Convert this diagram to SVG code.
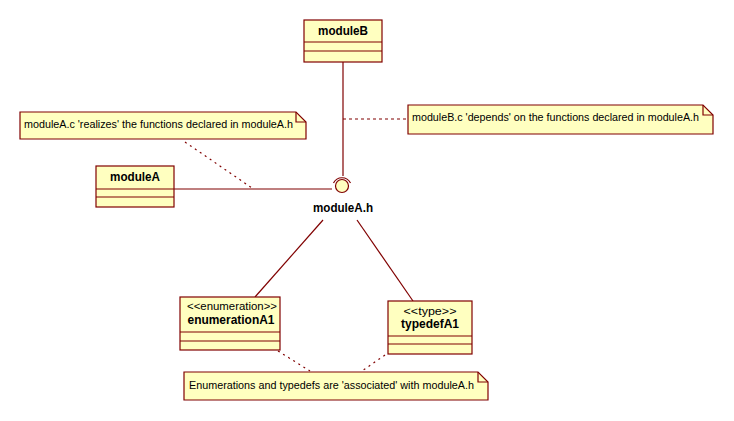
<svg xmlns="http://www.w3.org/2000/svg" width="734" height="421" viewBox="0 0 734 421">
<style>
.box{fill:#FFFFC0;stroke:#800000;stroke-width:1.2}
.ln{stroke:#800000;stroke-width:1.2;fill:none}
.dot{stroke:#800000;stroke-width:1.2;fill:none;stroke-dasharray:2,4}
.dash{stroke:#800000;stroke-width:1.2;fill:none;stroke-dasharray:3,3}
.t{font-family:"Liberation Sans",Arial,sans-serif;font-size:11.5px;fill:#000}
.b{font-family:"Liberation Sans",Arial,sans-serif;font-size:12px;font-weight:bold;fill:#000}
.n{font-family:"Liberation Sans",Arial,sans-serif;font-size:11.5px;fill:#000}
</style>
<rect width="734" height="421" fill="#fff"/>
<g id="connectors">
<line class="ln" x1="343" y1="62" x2="343" y2="176"/>
<line class="dash" x1="343" y1="119" x2="408" y2="119"/>
<line class="ln" x1="174" y1="189" x2="332" y2="189"/>
<line class="dot" x1="185" y1="142" x2="252" y2="188"/>
<line class="ln" x1="323" y1="220" x2="255" y2="297"/>
<line class="ln" x1="357" y1="220" x2="413" y2="301"/>
<line class="dot" x1="278" y1="351" x2="310" y2="371"/>
<line class="dot" x1="385" y1="355" x2="362" y2="371"/>
</g>
<g id="moduleB">
<rect class="box" x="304" y="20" width="78" height="42"/>
<line class="ln" x1="304" y1="42" x2="382" y2="42"/>
<line class="ln" x1="304" y1="51" x2="382" y2="51"/>
<text class="b" x="343" y="35" text-anchor="middle" textLength="50" lengthAdjust="spacingAndGlyphs">moduleB</text>
</g>
<g id="moduleA">
<rect class="box" x="96" y="166" width="78" height="41"/>
<line class="ln" x1="96" y1="189" x2="174" y2="189"/>
<line class="ln" x1="96" y1="197" x2="174" y2="197"/>
<text class="b" x="135" y="181" text-anchor="middle" textLength="50" lengthAdjust="spacingAndGlyphs">moduleA</text>
</g>
<g id="moduleA_h">
<path class="ln" d="M 333.5 183 A 9.5 9.5 0 0 1 350.5 183"/>
<circle cx="342" cy="186" r="6.5" fill="#FFFFC0" stroke="#800000" stroke-width="1.2"/>
<text class="b" x="343" y="212" text-anchor="middle" textLength="60" lengthAdjust="spacingAndGlyphs">moduleA.h</text>
</g>
<g id="enumerationA1">
<rect class="box" x="180" y="297" width="100" height="53"/>
<line class="ln" x1="180" y1="332" x2="280" y2="332"/>
<line class="ln" x1="180" y1="341" x2="280" y2="341"/>
<text class="t" x="232" y="310" text-anchor="middle" textLength="90" lengthAdjust="spacingAndGlyphs">&lt;&lt;enumeration&gt;&gt;</text>
<text class="b" x="231" y="324" text-anchor="middle" textLength="87" lengthAdjust="spacingAndGlyphs">enumerationA1</text>
</g>
<g id="typedefA1">
<rect class="box" x="388" y="301" width="84" height="53"/>
<line class="ln" x1="388" y1="336" x2="472" y2="336"/>
<line class="ln" x1="388" y1="344" x2="472" y2="344"/>
<text class="t" x="430" y="315" text-anchor="middle" textLength="53" lengthAdjust="spacingAndGlyphs">&lt;&lt;type&gt;&gt;</text>
<text class="b" x="430" y="328" text-anchor="middle" textLength="58" lengthAdjust="spacingAndGlyphs">typedefA1</text>
</g>
<g id="noteA">
<path class="box" d="M20 112 H296 L306 122 V139 H20 Z"/>
<path class="ln" d="M296 112 V122 H306"/>
<text class="n" x="24" y="128" textLength="269" lengthAdjust="spacingAndGlyphs">moduleA.c 'realizes' the functions declared in moduleA.h</text>
</g>
<g id="noteB">
<path class="box" d="M408 105 H703 L713 115 V134 H408 Z"/>
<path class="ln" d="M703 105 V115 H713"/>
<text class="n" x="412" y="121" textLength="287" lengthAdjust="spacingAndGlyphs">moduleB.c 'depends' on the functions declared in moduleA.h</text>
</g>
<g id="noteC">
<path class="box" d="M184 372 H478 L488 382 V400 H184 Z"/>
<path class="ln" d="M478 372 V382 H488"/>
<text class="n" x="189" y="389" textLength="285" lengthAdjust="spacingAndGlyphs">Enumerations and typedefs are 'associated' with moduleA.h</text>
</g>
</svg>
